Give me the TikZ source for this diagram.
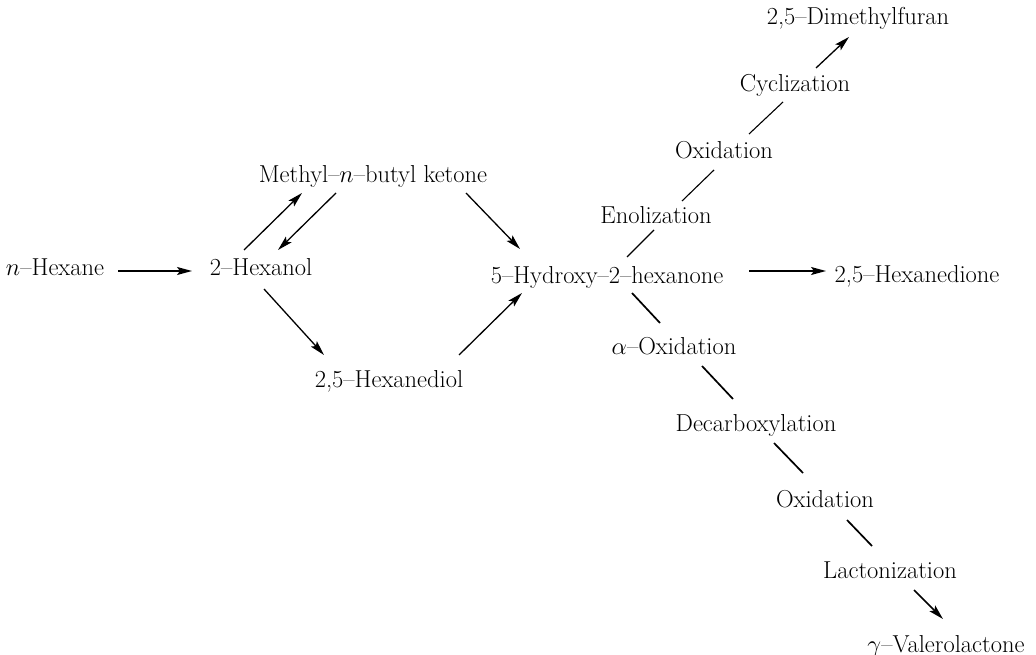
\RequirePackage{fix-cm}
\documentclass[tikz,border=0pt]{standalone}
\usepackage{fontspec}
\usetikzlibrary{arrows.meta,calc}
\begin{document}
\begin{tikzpicture}[x=1pt,y=-1pt,
  lbl/.style={anchor=base,inner sep=0pt,font=\fontsize{24.5}{29}\selectfont},
  arr/.style={line width=1.3pt,-{Stealth[length=15pt,width=8pt,inset=3pt]}},
  ln/.style={line width=1.1pt},
  lnb/.style={line width=1.7pt}]
\useasboundingbox (0,0) rectangle (1036,655);
% nodes
\node[lbl] (hex) at (55,275) {$n$–Hexane};
\node[lbl] (hol) at (261,275) {2–Hexanol};
\node[lbl] (mbk) at (373,183) {Methyl–$n$–butyl ketone};
\node[lbl] (diol) at (389,387) {2,5–Hexanediol};
\node[lbl] (hhx) at (607,283) {5–Hydroxy–2–hexanone};
\node[lbl] (hxd) at (917,282) {2,5–Hexanedione};
\node[lbl] (enol) at (656,224) {Enolization};
\node[lbl] (ox1) at (724,159) {Oxidation};
\node[lbl] (cyc) at (795,92) {Cyclization};
\node[lbl] (dmf) at (858,25) {2,5–Dimethylfuran};
\node[lbl] (aox) at (674,354) {$\alpha$–Oxidation};
\node[lbl] (dec) at (756,431) {Decarboxylation};
\node[lbl] (ox2) at (825,507) {Oxidation};
\node[lbl] (lac) at (890,578) {Lactonization};
\node[lbl] (gvl) at (946,652) {$\gamma$–Valerolactone};
% connectors
\draw[arr] ($(hex.base)+(63,-4)$) -- ($(hol.base)+(-69,-4)$);
\draw[arr] ($(hol.base)+(-17,-25)$) -- ($(mbk.base)+(-71,10)$);
\draw[arr] ($(mbk.base)+(-37,10)$) -- ($(hol.base)+(17,-25)$);
\draw[arr] ($(hol.base)+(3,14)$) -- ($(diol.base)+(-65,-32)$);
\draw[arr] ($(mbk.base)+(93,10)$) -- ($(hhx.base)+(-87,-34)$);
\draw[arr] ($(diol.base)+(70,-32)$) -- ($(hhx.base)+(-85,10)$);
\draw[arr] ($(hhx.base)+(142,-12)$) -- ($(hxd.base)+(-91,-11)$);
\draw[ln] ($(hhx.base)+(20,-26)$) -- ($(enol.base)+(-2,6)$);
\draw[ln] ($(enol.base)+(26,-23)$) -- ($(ox1.base)+(-10,11)$);
\draw[ln] ($(ox1.base)+(25,-25)$) -- ($(cyc.base)+(-12,10)$);
\draw[arr] ($(cyc.base)+(21,-24)$) -- ($(dmf.base)+(-9,12)$);
\draw[lnb] ($(hhx.base)+(25,10)$) -- ($(aox.base)+(-14,-31)$);
\draw[lnb] ($(aox.base)+(28,12)$) -- ($(dec.base)+(-23,-32)$);
\draw[lnb] ($(dec.base)+(18,12)$) -- ($(ox2.base)+(-22,-34)$);
\draw[lnb] ($(ox2.base)+(22,13)$) -- ($(lac.base)+(-18,-32)$);
\draw[arr,line width=1.7pt] ($(lac.base)+(24,12)$) -- ($(gvl.base)+(-3,-33)$);
\end{tikzpicture}
\end{document}
